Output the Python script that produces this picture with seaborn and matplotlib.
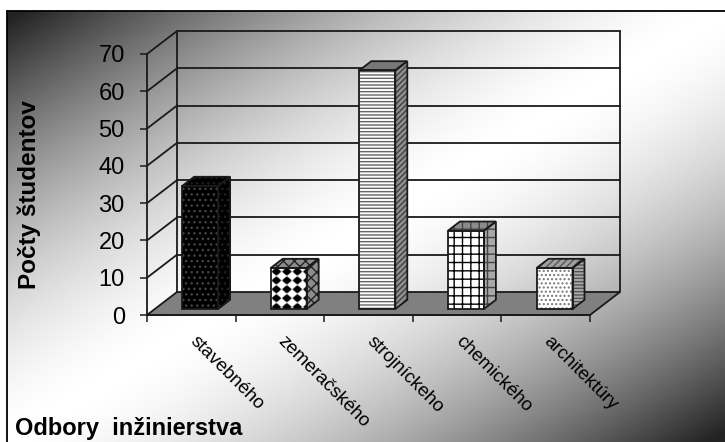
import numpy as np
import matplotlib
matplotlib.use("Agg")
import matplotlib.pyplot as plt
from matplotlib.patches import Polygon, Rectangle
from matplotlib.transforms import ScaledTranslation
import seaborn as sns

odbory = ["stavebného", "zemeračského", "strojníckeho", "chemického", "architektúry"]
studenti = [33, 11, 64, 21, 11]
y_ticks = [0, 10, 20, 30, 40, 50, 60, 70]

W, H = 725, 442
INK = "#1a1a1a"

sns.set_theme(style="white")
plt.rcParams["font.family"] = ["Liberation Sans", "DejaVu Sans"]
plt.rcParams["hatch.linewidth"] = 1.0

# pixely -> zlomky figury
def fx(px):
    return px / W

def fy(py):
    return 1 - py / H

fig = plt.figure(figsize=(W / 100, H / 100), dpi=100)
fig.patch.set_facecolor("white")

# pozadie s diagonalnym prechodom
bg = fig.add_axes([fx(7), 0, 1 - fx(7), fy(11)], zorder=0)
xx, yy = np.meshgrid(np.linspace(0, 1, 360), np.linspace(0, 1, 220))
t = np.clip(np.abs(xx + yy - 1) * 1.02, 0, 1)
bg.imshow(1 - 0.86 * t ** 1.6, cmap="gray", vmin=0, vmax=1, aspect="auto", interpolation="bilinear")
bg.axis("off")
fig.add_artist(plt.Line2D([fx(7), fx(7)], [0, fy(11)], color="black", lw=1.3))
fig.add_artist(plt.Line2D([fx(7), 1], [fy(11), fy(11)], color="black", lw=1.3))

# predna rovina grafu, tu su osi a popisy
ax = fig.add_axes([fx(147), fy(315), fx(590) - fx(147), fy(54) - fy(315)], zorder=1)
ax.patch.set_alpha(0)
ax.set_xlim(-0.5, len(odbory) - 0.5)
ax.set_ylim(0, 70)

px_cat = (590 - 147) / len(odbory)
px_val = (315 - 54) / 70
DX = 30 / px_cat
DY = 23 / px_val

def proj(x, y, d):
    return (x + d * DX, y + d * DY)

x0, x1 = ax.get_xlim()
LW = 1.3
# podlaha
ax.add_patch(Polygon([proj(x0, 0, 0), proj(x1, 0, 0), proj(x1, 0, 1), proj(x0, 0, 1)],
                     facecolor="#808080", edgecolor=INK, lw=LW, clip_on=False, zorder=1))
# mriezka na zadnej a lavej stene
for v in y_ticks[1:]:
    ax.plot(*zip(proj(x0, v, 1), proj(x1, v, 1)), color=INK, lw=LW, clip_on=False, zorder=1)
    ax.plot(*zip(proj(x0, v, 0), proj(x0, v, 1)), color=INK, lw=LW, clip_on=False, zorder=1)
ax.plot(*zip(proj(x0, 0, 1), proj(x0, 70, 1)), color=INK, lw=LW, clip_on=False, zorder=1)
ax.plot(*zip(proj(x1, 0, 1), proj(x1, 70, 1)), color=INK, lw=LW, clip_on=False, zorder=1)

for s in ["top", "right"]:
    ax.spines[s].set_visible(False)
for s in ["left", "bottom"]:
    ax.spines[s].set_color(INK)
    ax.spines[s].set_linewidth(LW)

ax.set_yticks(y_ticks)
ax.tick_params(axis="y", length=5, width=1.1, color=INK, labelsize=17, labelcolor="black", pad=11, left=True)
ax.set_xticks(np.arange(x0, x1 + 0.5))
ax.set_xticklabels([])
ax.tick_params(axis="x", which="major", length=5, width=1.1, color=INK, bottom=True)
ax.set_xticks(np.arange(len(odbory)), minor=True)
ax.set_xticklabels(odbory, minor=True, rotation=-45, ha="left", va="top",
                   rotation_mode="anchor", fontsize=13.5, color="black")
ax.tick_params(axis="x", which="minor", length=0, pad=13)
posun = ScaledTranslation(5 / 72, 0, fig.dpi_scale_trans)
for lab in ax.get_xticklabels(minor=True):
    lab.set_transform(lab.get_transform() + posun)
ax.grid(False)

ax.set_ylabel("Počty študentov", fontsize=17.5, fontweight="bold", color="black")
ax.yaxis.set_label_coords((41 - 147) / (590 - 147), (315 - 195) / (315 - 54))
ax.set_xlabel("Odbory  inžinierstva", fontsize=17, fontweight="bold", color="black", ha="left")
ax.xaxis.set_label_coords((15 - 147) / (590 - 147), (315 - 435) / (315 - 54))
ax.xaxis.label.set_va("baseline")

# stlpce lezia v rovine posunutej do hlbky
BAR_D = 0.26
ax_bars = fig.add_axes([fx(147 + 8.8), fy(315 - BAR_D * 23), fx(590) - fx(147), fy(54) - fy(315)], zorder=2)
sns.barplot(x=odbory, y=studenti, width=36 / px_cat, color="white", saturation=1, ax=ax_bars)

# (vypln, srafa, farba srafy) pre predok, bok, vrch
vzory = [
    [("black", "...", "#444444"), ("black", "...", "#202020"), ("black", "...", "#202020")],
    [("black", "", "black"), ("#8c8c8c", "xxx", "#222222"), ("#8c8c8c", "xxx", "#222222")],
    [("white", "-----", "#666666"), ("#8f8f8f", "//////", "#404040"), ("#777777", "", "#777777")],
    [("white", "++", "black"), ("#a8a8a8", "++", "#444444"), ("#8a8a8a", "++", "#444444")],
    [("white", "....", "#777777"), ("#a8a8a8", "-----", "#555555"), ("#a0a0a0", "/////", "#555555")],
]
HLBKA = 0.4
for i, (patch, vzor) in enumerate(zip(list(ax_bars.patches), vzory)):
    x, w, h = patch.get_x(), patch.get_width(), patch.get_height()
    (f_front, h_front, c_front), (f_side, h_side, c_side), (f_top, h_top, c_top) = vzor
    patch.set(facecolor=f_front, hatch=h_front, edgecolor=c_front, lw=0, zorder=3)
    patch.set_clip_on(False)
    if i == 1:
        # biele kruzky na ciernom, srafa v matplotlibe taky vzor nema
        u, v = np.meshgrid(np.linspace(0, 3.4, 120), np.linspace(0, 4.7, 160))
        kruzky = np.cos(2 * np.pi * u) + np.cos(2 * np.pi * v)
        ax_bars.imshow(np.clip((kruzky + 0.3) * 2.5, 0, 1), cmap="gray", vmin=0, vmax=1, aspect="auto",
                       extent=(x, x + w, 0, h), zorder=3, interpolation="bilinear")
    ax_bars.add_patch(Rectangle((x, 0), w, h, fill=False, edgecolor=INK, lw=LW, clip_on=False, zorder=4))
    bok = [proj(x + w, 0, 0), proj(x + w, 0, HLBKA), proj(x + w, h, HLBKA), proj(x + w, h, 0)]
    vrch = [proj(x, h, 0), proj(x + w, h, 0), proj(x + w, h, HLBKA), proj(x, h, HLBKA)]
    for body, fc, ht, hc in [(bok, f_side, h_side, c_side), (vrch, f_top, h_top, c_top)]:
        ax_bars.add_patch(Polygon(body, facecolor=fc, hatch=ht, edgecolor=hc, lw=0, clip_on=False, zorder=3))
        ax_bars.add_patch(Polygon(body, fill=False, edgecolor=INK, lw=LW, clip_on=False, zorder=4))

ax_bars.set_xlim(x0, x1)
ax_bars.set_ylim(0, 70)
ax_bars.axis("off")

fig.savefig("out.png", dpi=100)
